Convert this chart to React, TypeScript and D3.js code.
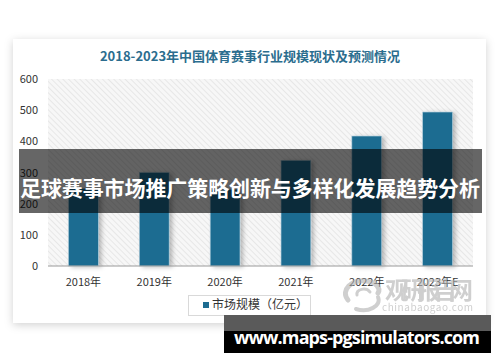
import React from "react";
import * as d3 from "d3";

const years = ["2018年", "2019年", "2020年", "2021年", "2022年", "2023年E"];
const marketSize = [249, 300, 246, 339, 417, 494];
const yTicks = [0, 100, 200, 300, 400, 500, 600];

const title = "2018-2023年中国体育赛事行业规模现状及预测情况";
const seriesName = "市场规模（亿元）";
const bannerText = "足球赛事市场推广策略创新与多样化发展趋势分析";
const siteText = "www.maps-pgsimulators.com";

const W = 500, H = 362;
const plot = { left: 48, right: 473, top: 79, bottom: 266 };
const barColor = "#1d6c91";
const font = "'Noto Sans CJK SC', 'Liberation Sans', sans-serif";

export default function App() {
    const x = d3.scaleBand()
        .domain(years)
        .range([plot.left, plot.right])
        .paddingInner(0.58)
        .paddingOuter(0.29);
    const y = d3.scaleLinear()
        .domain([0, 600])
        .range([plot.bottom, plot.top]);

    return (
        <svg width={W} height={H} style={{ position: "absolute", left: 0, top: 0 }} fontFamily={font}>
            <defs>
                <pattern id="hatch" width="4" height="4" patternUnits="userSpaceOnUse" patternTransform="rotate(-45)">
                    <rect width="4" height="4" fill="#f7f7f7" />
                    <line x1="0" y1="0" x2="0" y2="4" stroke="#dcdcdc" strokeWidth="1.2" />
                </pattern>
                <filter id="cardShadow" x="-10%" y="-10%" width="120%" height="125%">
                    <feDropShadow dx="0" dy="2" stdDeviation="4" floodColor="#000" floodOpacity="0.18" />
                </filter>
                <filter id="barShadow" x="-30%" y="-10%" width="180%" height="120%">
                    <feDropShadow dx="3" dy="1" stdDeviation="2" floodColor="#000" floodOpacity="0.25" />
                </filter>
            </defs>
            <rect width={W} height={H} fill="#fff" />

            {/* card */}
            <rect x={13} y={39} width={473} height={284} fill="#fff" filter="url(#cardShadow)" />

            <text x={250} y={61} textAnchor="middle" fontSize={13} fontWeight="bold" fill="#2b6d8e">{title}</text>

            {/* plot background */}
            <rect x={plot.left} y={plot.top} width={plot.right - plot.left} height={plot.bottom - plot.top} fill="url(#hatch)" />

            {yTicks.map(t => (
                <text key={t} x={38} y={y(t) + 4} textAnchor="end" fontSize={11} fill="#333">{t}</text>
            ))}

            {years.map((yr, i) => (
                <rect key={yr} x={x(yr)} y={y(marketSize[i])} width={x.bandwidth()}
                    height={plot.bottom - y(marketSize[i])} fill={barColor}
                    stroke="#a9c8d8" strokeWidth={0.6} filter="url(#barShadow)" />
            ))}

            <line x1={plot.left} x2={plot.right} y1={plot.bottom} y2={plot.bottom} stroke="#9a9a9a" strokeWidth={1} />

            {years.map(yr => (
                <text key={yr} x={x(yr)! + x.bandwidth() / 2} y={286} textAnchor="middle" fontSize={11} fill="#333">{yr}</text>
            ))}

            {/* legend */}
            <rect x={188.5} y={295.5} width={122} height={20} fill="#fff" stroke="#d9d9d9" />
            <rect x={203} y={302} width={6} height={6} fill={barColor} />
            <text x={212} y={309} fontSize={12} fill="#333">{seriesName}</text>

            {/* watermark */}
            <g opacity={0.6} fill="#b0b0b0">
                <path d="M348,300 C340,290 352,279 366,281 C376,282 381,288 378,293" fill="none" stroke="#b0b0b0" strokeWidth={5} strokeLinecap="round" />
                <path d="M378,297 C382,306 368,313 356,309" fill="none" stroke="#b0b0b0" strokeWidth={4} strokeLinecap="round" />
                <path d="M357,295 C356,289 366,287 370,292" fill="none" stroke="#b0b0b0" strokeWidth={3} strokeLinecap="round" />
                <text x={385} y={299} fontSize={24} fontWeight="bold" textLength={88}>观研报告网</text>
                <text x={382} y={311} fontSize={10} textLength={91}>chinabaogao.com</text>
            </g>

            {/* overlay banner */}
            <rect x={19} y={149} width={463} height={64} fill="#000" opacity={0.6} />
            <text x={250} y={196} textAnchor="middle" fontSize={21} fontWeight="bold" fill="#fff" textLength={460}>{bannerText}</text>

            {/* site banner */}
            <rect x={224} y={315} width={267} height={17} fill="#5a5a5a" />
            <rect x={224} y={331} width={267} height={22} fill="#000" />
            <text x={357} y={344} textAnchor="middle" fontSize={18} fontWeight="bold" fill="#fff" fontFamily="'Open Sans', 'DejaVu Sans', sans-serif" textLength={246}>{siteText}</text>
        </svg>
    );
}
